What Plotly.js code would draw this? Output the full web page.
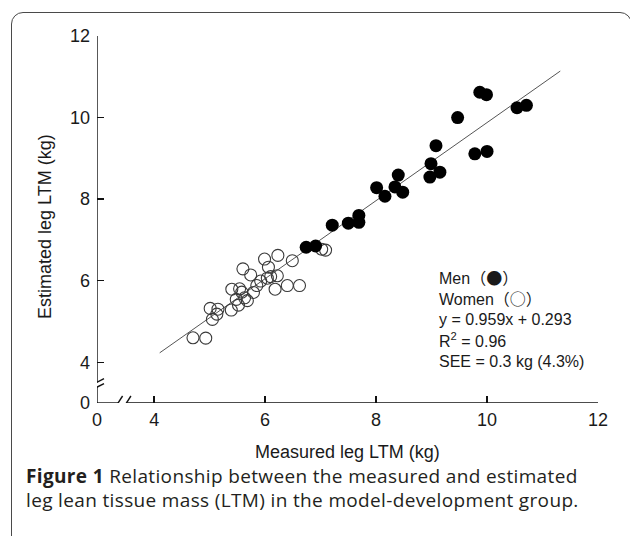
<!DOCTYPE html>
<html>
<head>
<meta charset="utf-8">
<script src="https://cdn.plot.ly/plotly-3.0.1.min.js"></script>
<style>
  html, body { margin: 0; padding: 0; width: 630px; height: 536px; overflow: hidden; background: #fff; }
  #frame { position: absolute; left: 11px; top: 12px; width: 621px; height: 600px; box-sizing: border-box;
           border: 1.5px solid #4a4a4a; border-radius: 12px; pointer-events: none; }
  #chart { position: absolute; left: 0; top: 0; width: 630px; height: 536px; }
  #caption { position: absolute; left: 26px; top: 464px; width: 610px; font-family: "Open Sans", "Noto Sans", sans-serif;
             font-size: 19px; line-height: 24px; letter-spacing: 0.35px; color: #231f20; white-space: nowrap; }
</style>
</head>
<body>
<div id="chart"></div>
<div id="frame"></div>
<div id="caption"><b>Figure 1</b> Relationship between the measured and estimated<br>leg lean tissue mass (LTM) in the model-development group.</div>
<script>
// Men (filled circles)
const menX = [9.87, 9.99, 10.54, 10.71, 9.47, 9.08, 9.78, 10.00, 8.99, 8.97, 9.15, 8.40, 8.34, 8.48, 8.01, 8.16, 7.69, 7.69, 7.50, 7.21, 6.74, 6.91];
const menY = [10.62, 10.56, 10.24, 10.30, 10.00, 9.31, 9.11, 9.17, 8.87, 8.54, 8.66, 8.59, 8.30, 8.17, 8.28, 8.07, 7.60, 7.43, 7.41, 7.36, 6.82, 6.85];

// Women (open circles)
const womenX = [4.70, 4.93, 5.05, 5.01, 5.15, 5.13, 5.39, 5.40, 5.54, 5.48, 5.58, 5.63, 5.68, 5.52, 5.79, 5.85, 5.92, 6.04, 5.60, 5.74, 5.99, 6.23, 6.06, 6.10, 6.22, 6.49, 6.18, 6.40, 6.62, 7.02, 7.09];
const womenY = [4.60, 4.59, 5.05, 5.32, 5.30, 5.18, 5.28, 5.79, 5.80, 5.54, 5.72, 5.58, 5.51, 5.40, 5.71, 5.88, 5.99, 6.06, 6.29, 6.14, 6.53, 6.62, 6.33, 6.10, 6.12, 6.49, 5.79, 5.88, 5.88, 6.77, 6.75];

// Regression line end points (as drawn)
const fitX = [4.10, 11.32];
const fitY = [4.23, 11.14];

// Axis ticks (broken axes: the "0" label sits just before the break)
const xTickVals = [2.97, 4, 6, 8, 10, 12];
const xTickText = ["0", "4", "6", "8", "10", "12"];
const yTickVals = [3, 4, 6, 8, 10, 12];
const yTickText = ["0", "4", "6", "8", "10", "12"];

const xTitle = "Measured leg LTM (kg)";
const yTitle = "Estimated leg LTM (kg)";
const cjk = s => '<span style="font-family:\'Noto Sans CJK JP\'">' + s + '</span>';
const statLines = ["Men" + cjk("（●）"), "Women" + cjk("（○）"), "y = 0.959x + 0.293", "R<sup>2</sup> = 0.96", "SEE = 0.3 kg (4.3%)"];

const xRange = [2.97, 12];
const yRange = [3, 12];
const xBreaks = [3.35, 3.50];
const yBreaks = [3.39, 3.51];

const traces = [
  { x: fitX, y: fitY, mode: "lines", line: { color: "#555", width: 1 }, hoverinfo: "skip", showlegend: false },
  { x: womenX, y: womenY, mode: "markers", name: "Women",
    marker: { symbol: "circle-open", size: 12, color: "#3a3a3a", line: { width: 1.1, color: "#3a3a3a" } }, showlegend: false },
  { x: menX, y: menY, mode: "markers", name: "Men",
    marker: { symbol: "circle", size: 13, color: "#000", line: { width: 0 } }, showlegend: false }
];

const axisFont = { family: "Liberation Sans, Arial, sans-serif", size: 18, color: "#1a1a1a" };
const lineStyle = { color: "#111", width: 1.4 };

const shapes = [
  { type: "line", xref: "x", yref: "y", x0: xRange[0], x1: xBreaks[0], y0: yRange[0], y1: yRange[0], line: lineStyle },
  { type: "line", xref: "x", yref: "y", x0: xBreaks[1], x1: xRange[1], y0: yRange[0], y1: yRange[0], line: lineStyle },
  { type: "line", xref: "x", yref: "y", x0: xRange[0], x1: xRange[0], y0: yRange[0], y1: yBreaks[0], line: lineStyle },
  { type: "line", xref: "x", yref: "y", x0: xRange[0], x1: xRange[0], y0: yBreaks[1], y1: yRange[1], line: lineStyle }
];
xBreaks.forEach(b => shapes.push({ type: "line", xref: "x", yref: "y", xsizemode: "pixel", ysizemode: "pixel",
  xanchor: b, yanchor: yRange[0], x0: -4.5, x1: 4.5, y0: -7, y1: 7, line: lineStyle }));
yBreaks.forEach(b => shapes.push({ type: "line", xref: "x", yref: "y", xsizemode: "pixel", ysizemode: "pixel",
  xanchor: xRange[0], yanchor: b, x0: -7, x1: 7, y0: -3.5, y1: 3.5, line: lineStyle }));

const annFont = { family: "Liberation Sans, Arial, sans-serif", size: 16, color: "#1a1a1a" };
const titleFont = { family: "Liberation Sans, Arial, sans-serif", size: 18, color: "#1a1a1a" };
const PL = 97, PW = 501, PT = 36, PH = 367;
const annotations = statLines.map((t, i) => ({
  text: t, xref: "paper", yref: "paper", x: (437 - PL) / PW, y: (PT + PH - (277 + i * 21)) / PH,
  xanchor: "left", yanchor: "middle", showarrow: false, font: annFont, align: "left"
}));
annotations.push({ text: xTitle, xref: "paper", yref: "paper", x: 0.5, y: (PT + PH - 452) / PH,
  xanchor: "center", yanchor: "middle", showarrow: false, font: titleFont });
annotations.push({ text: yTitle, xref: "paper", yref: "paper", x: (45 - PL) / PW, y: (PT + PH - 227) / PH,
  xanchor: "center", yanchor: "middle", textangle: -90, showarrow: false, font: titleFont });

const layout = {
  width: 630, height: 536,
  margin: { l: PL, r: 630 - PL - PW, t: PT, b: 536 - PT - PH, pad: 0 },
  paper_bgcolor: "rgba(0,0,0,0)", plot_bgcolor: "rgba(0,0,0,0)",
  xaxis: { range: xRange, tickmode: "array", tickvals: xTickVals, ticktext: xTickText,
           ticks: "inside", ticklen: 7, tickwidth: 1.4, tickcolor: "#111", showline: false, showgrid: false,
           zeroline: false, tickfont: axisFont, ticklabelstandoff: 4, fixedrange: true },
  yaxis: { range: yRange, tickmode: "array", tickvals: yTickVals, ticktext: yTickText,
           ticks: "inside", ticklen: 7, tickwidth: 1.4, tickcolor: "#111", showline: false, showgrid: false,
           zeroline: false, tickfont: axisFont, ticklabelstandoff: 6, fixedrange: true },
  shapes: shapes,
  annotations: annotations,
  showlegend: false
};

Plotly.newPlot("chart", traces, layout, { displayModeBar: false, staticPlot: true });
</script>
</body>
</html>
